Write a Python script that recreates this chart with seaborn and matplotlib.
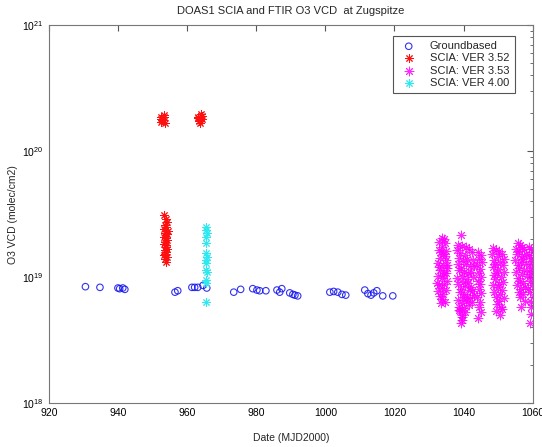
import numpy as np
import pandas as pd
import matplotlib
matplotlib.use('Agg')
import matplotlib.pyplot as plt
import seaborn as sns

UNIT = 1e18  # VCD values below are in units of 1e18 molec/cm2

# Groundbased (FTIR) O3 VCD
ground_day = [930.6, 934.8, 940.0, 940.5, 941.4, 942.0, 956.5, 957.3, 961.4, 962.2,
              963.1, 964.6, 965.7, 973.5, 975.5, 979.0, 980.2, 981.0, 982.8, 986.0,
              986.8, 987.4, 989.7, 990.6, 991.2, 992.0, 1001.3, 1002.4, 1003.6, 1004.8,
              1005.9, 1011.4, 1012.3, 1013.2, 1014.0, 1014.9, 1016.6, 1019.5]
ground_vcd = [8.4, 8.3, 8.2, 8.1, 8.2, 8.0, 7.6, 7.8, 8.3, 8.3,
              8.3, 8.6, 8.2, 7.6, 8.0, 8.1, 7.9, 7.8, 7.8, 7.9,
              7.6, 8.1, 7.5, 7.3, 7.2, 7.1, 7.6, 7.7, 7.6, 7.3,
              7.2, 7.9, 7.4, 7.2, 7.5, 7.8, 7.1, 7.1]

# SCIA VER 3.52
v352_day = [952.4, 953.0, 953.4, 952.6, 953.2, 952.8, 953.5, 952.5,
            963.2, 963.8, 964.2, 963.4, 964.0, 963.6, 964.3, 963.1,
            953.2, 953.8, 954.3, 953.5, 954.0, 953.3, 954.4, 953.7, 954.1, 953.4,
            953.9, 954.2, 953.6, 953.3, 954.0, 953.8, 954.3, 953.5, 953.9, 953.7,
            953.4, 954.1, 953.6, 953.8]
v352_vcd = [181, 175, 186, 170, 192, 178, 168, 188,
            184, 178, 190, 172, 196, 168, 180, 187,
            31.0, 29.0, 27.5, 26.0, 25.0, 24.0, 23.2, 22.5, 21.8, 21.0,
            20.3, 19.7, 19.0, 18.4, 17.9, 17.3, 16.8, 16.3, 15.8, 15.4,
            15.0, 14.5, 14.0, 13.2]

# SCIA VER 3.53
v353_day = [
    # ~1033-1035
    1033.6, 1034.2, 1033.0, 1034.6, 1033.8, 1032.8, 1035.0, 1034.0, 1033.2, 1034.8,
    1032.6, 1033.9, 1035.1, 1033.1, 1034.4, 1032.5, 1033.7, 1035.2, 1034.3, 1032.9,
    1033.6, 1034.9, 1034.1, 1033.2, 1033.8, 1034.5, 1033.5, 1032.4, 1035.3, 1034.0,
    1033.4, 1034.6, 1033.0, 1035.0, 1032.7,
    # ~1038-1043
    1039.3, 1038.4, 1039.6, 1040.8, 1038.2, 1041.5, 1039.0, 1040.3, 1042.4, 1038.6,
    1041.0, 1039.8, 1042.8, 1038.3, 1040.6, 1041.8, 1039.2, 1043.0, 1038.8, 1040.1,
    1041.4, 1042.2, 1039.5, 1038.1, 1040.9, 1042.6, 1039.9, 1041.2, 1038.5, 1040.4,
    1042.0, 1039.1, 1041.7, 1038.9, 1040.0, 1042.9, 1039.7, 1041.1, 1038.4, 1040.7,
    1042.3, 1039.4, 1041.6, 1038.7, 1040.2, 1039.0, 1040.5, 1039.6, 1039.4, 1039.5,
    1039.3, 1041.9, 1038.6, 1042.5,
    # ~1044-1045
    1044.2, 1044.9, 1044.5, 1045.2, 1043.9, 1044.7, 1044.3, 1045.0, 1044.1, 1044.8,
    1044.4, 1045.1, 1044.0, 1044.6, 1044.5, 1044.9, 1044.2,
    # ~1048-1052
    1048.6, 1049.4, 1050.1, 1048.3, 1051.0, 1049.8, 1051.6, 1048.9, 1050.5, 1049.2,
    1051.3, 1048.4, 1050.0, 1051.8, 1049.6, 1048.7, 1050.8, 1049.0, 1051.4, 1050.3,
    1048.5, 1049.9, 1051.1, 1048.8, 1050.6, 1049.3, 1051.7, 1050.2, 1049.7, 1050.9,
    1049.5, 1050.4, 1051.2,
    # ~1055-1058
    1055.6, 1056.3, 1057.0, 1055.1, 1057.6, 1056.0, 1058.1, 1055.4, 1056.8, 1057.3,
    1054.9, 1056.5, 1057.9, 1055.8, 1056.1, 1057.5, 1055.2, 1056.9, 1058.2, 1055.7,
    1056.4, 1057.2, 1055.3, 1057.8, 1056.6, 1055.9, 1057.1, 1056.2, 1057.7, 1056.7,
    # ~1059-1060
    1059.0, 1059.6, 1060.1, 1058.8, 1059.4, 1060.2, 1059.1, 1059.8, 1058.9, 1059.5,
    1060.0, 1059.2, 1059.7, 1058.7, 1059.3, 1060.1, 1059.6, 1059.4, 1059.5, 1059.2,
]
v353_vcd = [
    20.4, 20.0, 19.0, 18.6, 17.5, 16.4, 16.0, 15.2, 14.3, 13.6,
    13.0, 12.5, 11.8, 11.3, 10.8, 10.2, 9.8, 9.4, 8.9, 8.6,
    8.2, 7.9, 7.4, 7.1, 6.7, 6.4, 6.2, 9.0, 12.4, 10.4,
    15.8, 14.8, 12.0, 10.8, 7.8,
    21.5, 18.0, 17.6, 17.2, 16.3, 16.6, 15.5, 15.0, 15.9, 14.2,
    14.0, 13.4, 13.8, 12.8, 12.6, 12.3, 11.8, 12.2, 11.3, 11.0,
    10.7, 10.9, 10.3, 9.9, 9.7, 10.0, 9.2, 9.0, 8.8, 8.5,
    8.4, 8.1, 7.9, 7.6, 7.4, 7.2, 7.0, 6.9, 6.6, 6.5,
    6.4, 6.2, 6.0, 5.8, 5.7, 5.4, 5.3, 5.0, 4.8, 4.6,
    4.3, 6.8, 5.5, 7.8,
    15.8, 15.0, 14.0, 13.2, 12.4, 11.6, 10.8, 10.1, 9.4, 8.8,
    8.1, 7.5, 6.9, 6.4, 5.8, 5.3, 4.7,
    17.0, 16.4, 16.0, 15.2, 15.4, 14.6, 14.0, 13.8, 13.2, 12.8,
    12.4, 12.0, 11.6, 11.0, 10.8, 10.4, 10.0, 9.6, 9.2, 8.9,
    8.6, 8.3, 7.9, 7.6, 7.3, 7.0, 6.8, 6.5, 6.1, 5.8,
    5.4, 5.0, 5.6,
    18.6, 18.0, 17.4, 16.8, 16.6, 16.0, 15.4, 15.2, 14.6, 14.0,
    13.6, 13.2, 12.6, 12.4, 11.8, 11.4, 11.0, 10.6, 10.2, 9.9,
    9.4, 9.0, 8.7, 8.4, 8.0, 7.6, 7.3, 6.9, 6.5, 5.8,
    17.3, 16.6, 15.8, 15.0, 14.2, 13.4, 12.6, 11.9, 11.2, 10.6,
    9.9, 9.3, 8.7, 8.1, 7.6, 7.0, 6.4, 5.8, 5.1, 4.3,
]

# SCIA VER 4.00
v400_day = [965.6, 965.5, 965.7, 965.6, 965.5, 965.6, 965.7, 965.6, 965.5, 965.6,
            965.7, 965.6, 965.5, 965.6]
v400_vcd = [24.9, 23.6, 22.3, 20.8, 18.6, 15.5, 14.4, 13.6, 12.9, 11.4,
            11.0, 9.5, 9.0, 6.3]

ground = pd.DataFrame({'day': ground_day, 'vcd': np.array(ground_vcd) * UNIT})
v352 = pd.DataFrame({'day': v352_day, 'vcd': np.array(v352_vcd) * UNIT})
v353 = pd.DataFrame({'day': v353_day, 'vcd': np.array(v353_vcd) * UNIT})
v400 = pd.DataFrame({'day': v400_day, 'vcd': np.array(v400_vcd) * UNIT})

sns.set_style('white')
plt.rcParams['font.family'] = ['Liberation Sans', 'DejaVu Sans']
plt.rcParams['font.size'] = 7.5

fig = plt.figure(figsize=(5.42, 4.47), dpi=100)
ax = fig.add_axes([0.090, 0.098, 0.893, 0.846])

star = (8, 2, 0)
sns.scatterplot(data=ground, x='day', y='vcd', ax=ax, marker='o', s=22,
                facecolor='none', edgecolor='#1010ee', linewidth=0.8, alpha=0.85,
                label='Groundbased')
sns.scatterplot(data=v352, x='day', y='vcd', ax=ax, marker=star, s=30,
                color='#ff1010', linewidth=0.7, label='SCIA: VER 3.52')
sns.scatterplot(data=v353, x='day', y='vcd', ax=ax, marker=star, s=40,
                color='#ff00ff', linewidth=0.7, alpha=0.85, label='SCIA: VER 3.53')
sns.scatterplot(data=v400, x='day', y='vcd', ax=ax, marker=star, s=30,
                color='#30e8f0', linewidth=0.7, label='SCIA: VER 4.00')

ax.set_yscale('log')
ax.set_xlim(920, 1060)
ax.set_ylim(1e18, 1e21)
ax.set_xticks(np.arange(920, 1061, 20))

ax.tick_params(which='both', direction='in', top=True, right=True,
               colors='#555555', labelcolor='black', labelsize=7.5)
ax.tick_params(which='major', length=4)
ax.tick_params(which='minor', length=2)
for sp in ax.spines.values():
    sp.set_color('#777777')
    sp.set_linewidth(0.8)

ax.set_xlabel('Date (MJD2000)', fontsize=7.5, labelpad=11)
ax.set_ylabel('O3 VCD (molec/cm2)', fontsize=7.5, labelpad=3)
ax.set_title('DOAS1 SCIA and FTIR O3 VCD  at Zugspitze', fontsize=8, pad=8)

leg = ax.legend(loc='upper right', bbox_to_anchor=(0.963, 0.972), fontsize=8,
                frameon=True, fancybox=False, framealpha=1, borderpad=0.5,
                handletextpad=1.0, labelspacing=0.2, handlelength=1.8,
                borderaxespad=0)
leg.get_frame().set_edgecolor('#555555')
leg.get_frame().set_linewidth(0.8)

fig.savefig('out.png', dpi=100)
